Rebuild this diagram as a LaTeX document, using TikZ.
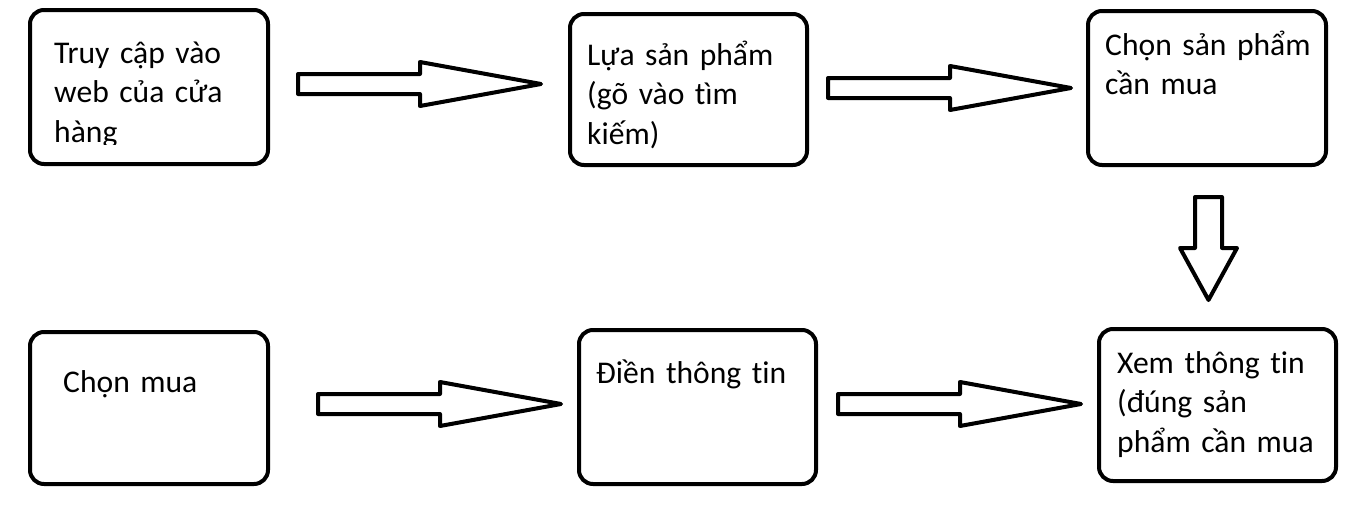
\documentclass[tikz,border=0pt]{standalone}
\usepackage{fontspec}
\setmainfont{Carlito}[Ligatures={NoCommon}]
\begin{document}
\begin{tikzpicture}[x=1pt,y=-1pt,
  box/.style={draw=black,line width=4pt,rounded corners=14pt,fill=white,inner sep=0pt},
  txt/.style={anchor=base west,inner sep=0pt,text width=236pt,align=left,font=\fontsize{31.6}{39.5}\selectfont},
  blk/.style={draw=black,line width=4pt,line join=round,fill=white},
  harrow/.pic={\draw[blk] (0,-10) -- (122,-10) -- (122,-22) -- (243,0) -- (122,22) -- (122,10) -- (0,10) -- cycle;}]
\useasboundingbox (0,0) rectangle (1363,509);
% boxes
\node[box,minimum width=238pt,minimum height=154pt] (b1) at (149,87) {};
\node[box,minimum width=237pt,minimum height=151pt] (b2) at (688.5,89.5) {};
\node[box,minimum width=238pt,minimum height=154pt] (b3) at (1207,88) {};
\node[box,minimum width=238pt,minimum height=152pt] (b4) at (149,408) {};
\node[box,minimum width=237pt,minimum height=154pt] (b5) at (697.5,407) {};
\node[box,minimum width=237pt,minimum height=152pt] (b6) at (1217.5,405) {};
% texts
\begin{scope}
\clip (28,8) rectangle (270,144.5);
\node[txt] (t1) at (54,63) {Truy cập vào\\web của cửa\\hàng};
\end{scope}
\node[txt] (t2) at (587,65) {Lựa sản phẩm\\(gõ vào tìm\\kiếm)};
\node[txt] (t3) at (1105,55) {Chọn sản phẩm\\cần mua};
\node[txt] (t4) at (63,392) {Chọn mua};
\node[txt] (t5) at (596,383) {Điền thông tin};
\node[txt] (t6) at (1117,373) {Xem thông tin\\(đúng sản\\phẩm cần mua};
% block arrows
\pic (a1) at (298,84) {harrow};
\pic (a2) at (828,88) {harrow};
\pic (a3) at (318,404) {harrow};
\pic (a4) at (838,404) {harrow};
\draw[blk] (1195,197) -- (1222,197) -- (1222,248) -- (1237,248) -- (1208.5,300) -- (1180,248) -- (1195,248) -- cycle;
\end{tikzpicture}
\end{document}
